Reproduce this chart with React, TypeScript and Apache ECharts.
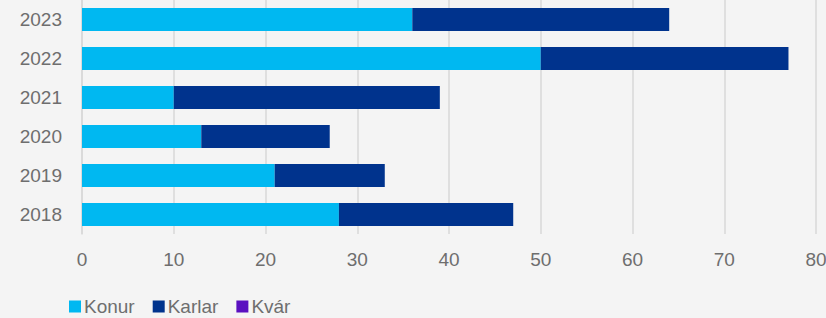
import React, { useEffect, useRef } from "react";
import * as echarts from "echarts";

const years = ["2018", "2019", "2020", "2021", "2022", "2023"];
const konur = [28, 21, 13, 10, 50, 36];
const karlar = [19, 12, 14, 29, 27, 28];
const kvar = [0, 0, 0, 0, 0, 0];
const xTicks = [0, 10, 20, 30, 40, 50, 60, 70, 80];

const FONT = "Liberation Sans";

export default function App() {
  const ref = useRef<HTMLDivElement>(null);
  useEffect(() => {
    const chart = echarts.init(ref.current!, null, { renderer: "svg" });
    chart.setOption({
      animation: false,
      backgroundColor: "#f4f4f4",
      textStyle: { fontFamily: FONT },
      grid: { left: 82, right: 10, top: 0, height: 234, containLabel: false, outerBoundsMode: "none" },
      legend: {
        left: 64,
        top: 292,
        itemWidth: 12,
        itemHeight: 12,
        itemGap: 18,
        icon: "rect",
        textStyle: { fontSize: 19, color: "#6e6e6e", fontFamily: FONT, padding: [0, 0, 0, -2] },
        data: ["Konur", "Karlar", "Kvár"],
      },
      xAxis: {
        type: "value",
        min: xTicks[0],
        max: xTicks[xTicks.length - 1],
        interval: 10,
        axisLine: { show: false },
        axisTick: { show: false },
        splitLine: { lineStyle: { color: "#d9d9d9", width: 1.5 } },
        axisLabel: { fontSize: 19, color: "#6e6e6e", margin: 16, fontFamily: FONT },
      },
      yAxis: {
        type: "category",
        data: years,
        axisLine: { show: true, lineStyle: { color: "#d9d9d9", width: 1.5 } },
        axisTick: { show: false },
        axisLabel: { fontSize: 19, color: "#6e6e6e", margin: 20, fontFamily: FONT },
      },
      series: [
        { name: "Konur", type: "bar", stack: "a", data: konur, barWidth: "59%", itemStyle: { color: "#00b8f1" } },
        { name: "Karlar", type: "bar", stack: "a", data: karlar, itemStyle: { color: "#00338d" } },
        { name: "Kvár", type: "bar", stack: "a", data: kvar, itemStyle: { color: "#5a10c0" } },
      ],
    });
    return () => chart.dispose();
  }, []);
  return <div ref={ref} style={{ width: 826, height: 318, position: "fixed", left: 0, top: 0 }} />;
}
